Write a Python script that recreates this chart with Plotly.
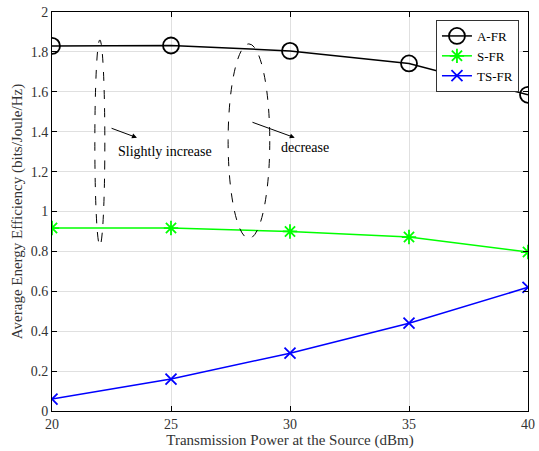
import plotly.graph_objects as go

power = [20, 25, 30, 35, 40]
a_fr = [1.83, 1.832, 1.805, 1.742, 1.585]
s_fr = [0.917, 0.917, 0.90, 0.872, 0.797]
ts_fr = [0.06, 0.16, 0.29, 0.44, 0.62]
y_ticks = [0, 0.2, 0.4, 0.6, 0.8, 1, 1.2, 1.4, 1.6, 1.8, 2]
y_labels = ["0", "0.2", "0.4", "0.6", "0.8", "1", "1.2", "1.4", "1.6", "1.8", "2"]

font = "Liberation Serif, Times New Roman, serif"
fig = go.Figure()
fig.add_trace(go.Scatter(x=power, y=a_fr, name="A-FR", mode="lines+markers",
                         line=dict(color="black", width=1.5),
                         marker=dict(symbol="circle-open", size=16, color="black", line=dict(width=1.8))))
fig.add_trace(go.Scatter(x=power, y=s_fr, name="S-FR", mode="lines+markers",
                         line=dict(color="#00ff00", width=1.5),
                         marker=dict(symbol="asterisk-open", size=12, color="#00ff00", line=dict(width=1.8, color="#00ff00"))))
fig.add_trace(go.Scatter(x=power, y=ts_fr, name="TS-FR", mode="lines+markers",
                         line=dict(color="blue", width=1.5),
                         marker=dict(symbol="x-thin-open", size=11, color="blue", line=dict(width=1.8, color="blue"))))

# dashed ellipses
fig.add_shape(type="circle", xref="x", yref="y", x0=21.8, x1=22.22, y0=0.83, y1=1.86,
              line=dict(color="black", width=1, dash="dash"))
fig.add_shape(type="circle", xref="x", yref="y", x0=27.4, x1=29.15, y0=0.865, y1=1.84,
              line=dict(color="black", width=1, dash="dash"))

# arrows
fig.add_annotation(x=23.57, y=1.37, ax=22.44, ay=1.42, xref="x", yref="y", axref="x", ayref="y",
                   showarrow=True, arrowhead=2, arrowsize=1, arrowwidth=1, arrowcolor="black", text="")
fig.add_annotation(x=30.2, y=1.37, ax=28.36, ay=1.45, xref="x", yref="y", axref="x", ayref="y",
                   showarrow=True, arrowhead=2, arrowsize=1, arrowwidth=1, arrowcolor="black", text="")
fig.add_annotation(x=24.75, y=1.30, xref="x", yref="y", text="Slightly increase", showarrow=False,
                   font=dict(family=font, size=14, color="black"))
fig.add_annotation(x=30.63, y=1.32, xref="x", yref="y", text="decrease", showarrow=False,
                   font=dict(family=font, size=14, color="black"))

axis_common = dict(showline=True, linecolor="black", linewidth=1, mirror="ticks", ticks="inside",
                   ticklen=5, tickcolor="black", showgrid=True, gridcolor="#e0e0e0", gridwidth=1,
                   zeroline=False, automargin=False, tickfont=dict(family=font, size=14, color="#333333"))
fig.update_xaxes(range=[20, 40], tickvals=power, ticktext=[str(p) for p in power],
                 title=dict(text="Transmission Power at the Source (dBm)", font=dict(family=font, size=15, color="#333333"), standoff=2),
                 **axis_common)
fig.update_yaxes(range=[0, 2], tickvals=y_ticks, ticktext=y_labels,
                 title=dict(text="Average Energy Efficiency (bits/Joule/Hz)", font=dict(family=font, size=15, color="#333333"), standoff=4),
                 **axis_common)

fig.update_layout(width=539, height=451, margin=dict(l=52, r=11, t=12, b=40, autoexpand=False),
                  plot_bgcolor="white", paper_bgcolor="white",
                  font=dict(family=font, size=14, color="black"),
                  legend=dict(x=0.981, y=0.98, xanchor="right", yanchor="top",
                              bordercolor="#333333", borderwidth=1, bgcolor="white",
                              font=dict(family=font, size=13, color="black"),
                              itemwidth=30, tracegroupgap=0),
                  showlegend=True)

fig.write_html("out.html", config={"displayModeBar": False},
               post_script="document.body.style.margin='0px';")
